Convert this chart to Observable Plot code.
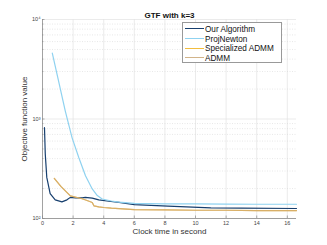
<!DOCTYPE html>
<html><head><meta charset="utf-8">
<script src="https://cdn.jsdelivr.net/npm/d3@7"></script>
<script src="https://cdn.jsdelivr.net/npm/@observablehq/plot@0.6"></script>
<style>
body{margin:0;background:#fff;font-family:"Liberation Sans",Arial,sans-serif;}
#wrap{position:relative;width:327px;height:245px;}
#legend{position:absolute;left:182px;top:22px;width:100px;height:41px;border:1px solid #999;background:#fff;box-sizing:border-box;font-size:8.2px;color:#111;}
.row{position:absolute;left:2px;height:10px;line-height:10px;white-space:nowrap;}
.sw{display:inline-block;width:19px;height:0;border-top:1.3px solid;vertical-align:middle;margin-right:1px;position:relative;top:-1px;}
</style></head>
<body><div id="wrap"><div id="legend"></div></div>
<script>
const seriesNames = ["Our Algorithm","ProjNewton","Specialized ADMM","ADMM"];
const seriesColors = ["#173f6e","#8fd2f0","#f2bd3e","#d2b48a"];
const ourX = [0.13,0.18,0.28,0.5,0.83,1.27,1.6,1.82,2.15,2.59,2.8,3.25,3.68,4.34,5.0,6.0,8.2,11,13,16.6];
const ourY = [818,447,259,178,154,147,154,163,161,161,163,160,154,149,145,138,133,128,127,126];
const pnX = [0.64,1.0,1.49,1.93,2.37,2.81,3.25,3.58,3.9,4.5,5,6,8,10,12,14,16.6];
const pnY = [4600,2600,1200,650,410,269,198,170,157,150,146,142,140,140,139.5,139,139];
const sadmmX = [0.77,1.2,1.82,2.59,3.0,3.25,3.36,3.68,4.0,4.5,6,8,10,12,14,16.6];
const sadmmY = [253,210,169,158,150,145,134,131,129,127,123,122,121,121,120,120];
const admmX = [0.77,1.2,1.82,2.59,3.0,3.25,3.36,3.68,4.0,4.5,6,8,10,12,14,16.6];
const admmY = [253,210,169,158,150,145,134,131,129,127,123,122,121,121,120,120];
const xTicks = [0,2,4,6,8,10,12,14,16];
const yTicks = [100,1000,10000];
const yTickLabels = ["10²","10³","10⁴"];
const title = "GTF with k=3";
const xLabel = "Clock time in second";
const yLabel = "Objective function value";

const toRows = (xs, ys, s) => xs.map((x,i)=>({x, y: ys[i], s}));
const data = [
  ...toRows(ourX, ourY, seriesNames[0]),
  ...toRows(pnX, pnY, seriesNames[1]),
  ...toRows(sadmmX, sadmmY, seriesNames[2]),
  ...toRows(admmX, admmY, seriesNames[3])
];
const minor = [];
for (const d of [100,1000]) for (let k=2;k<=9;k++) minor.push(d*k);

const W=327,H=245,mt=19,mb=27,ml=42,mr=31;
const ph=H-mt-mb, pw=W-ml-mr;
const colorOf = Object.fromEntries(seriesNames.map((n,i)=>[n,seriesColors[i]]));
const opacityOf = {[seriesNames[0]]:1,[seriesNames[1]]:1,[seriesNames[2]]:1,[seriesNames[3]]:0.55};
const order = [seriesNames[0],seriesNames[1],seriesNames[2],seriesNames[3]];

const chart = Plot.plot({
  width:W, height:H, marginTop:mt, marginBottom:mb, marginLeft:ml, marginRight:mr,
  style:{fontFamily:"'Liberation Sans',Arial,sans-serif", background:"#fff"},
  x:{domain:[0,16.6]},
  y:{type:"log", domain:[100,10000]},
  marks:[
    Plot.ruleX(xTicks.filter(t=>t>0), {stroke:"#e6e6e6", strokeWidth:0.8}),
    Plot.ruleY(minor, {stroke:"#d8d8d8", strokeWidth:0.6, strokeDasharray:"1,1.5"}),
    Plot.ruleY(yTicks, {stroke:"#e2e2e2", strokeWidth:0.7}),
    ...order.map(n => Plot.line(data.filter(d=>d.s===n), {x:"x", y:"y", stroke:n===seriesNames[2]?"#e0a83c":colorOf[n], strokeOpacity:opacityOf[n], strokeWidth:1.2})),
    Plot.ruleX([0], {stroke:"#8a8a8a", strokeWidth:0.8}),
    Plot.ruleY([100], {stroke:"#8a8a8a", strokeWidth:0.8}),
    Plot.ruleX(xTicks, {stroke:"#8a8a8a", strokeWidth:0.7, insetTop:ph-2.5}),
    Plot.ruleY(yTicks, {stroke:"#8a8a8a", strokeWidth:0.7, insetRight:pw-2.5}),
    Plot.ruleY(minor, {stroke:"#8a8a8a", strokeWidth:0.6, insetRight:pw-1.5}),
    Plot.axisX({ticks:xTicks, tickSize:0, tickPadding:3, fontSize:5.5, color:"#444", label:null}),
    Plot.axisY({ticks:yTicks, tickSize:0, tickPadding:2, fontSize:5.5, color:"#444", label:null, tickFormat:(d)=>yTickLabels[yTicks.indexOf(d)]}),
    Plot.text([title], {frameAnchor:"top", dy:-7, fontWeight:"bold", fontSize:8, fill:"#111"}),
    Plot.text([xLabel], {frameAnchor:"bottom", dy:15, fontSize:8, fill:"#333"}),
    Plot.text([yLabel], {frameAnchor:"left", dx:-18, rotate:-90, textAnchor:"middle", fontSize:8, fill:"#333"})
  ]
});
document.getElementById("wrap").prepend(chart);

const leg = document.getElementById("legend");
const tops = [2,11.7,21.3,31];
seriesNames.forEach((n,i)=>{
  const r = document.createElement("div");
  r.className="row"; r.style.top = tops[i]+"px";
  r.innerHTML = `<span class="sw" style="border-color:${seriesColors[i]}"></span>${n}`;
  leg.appendChild(r);
});
</script></body></html>
